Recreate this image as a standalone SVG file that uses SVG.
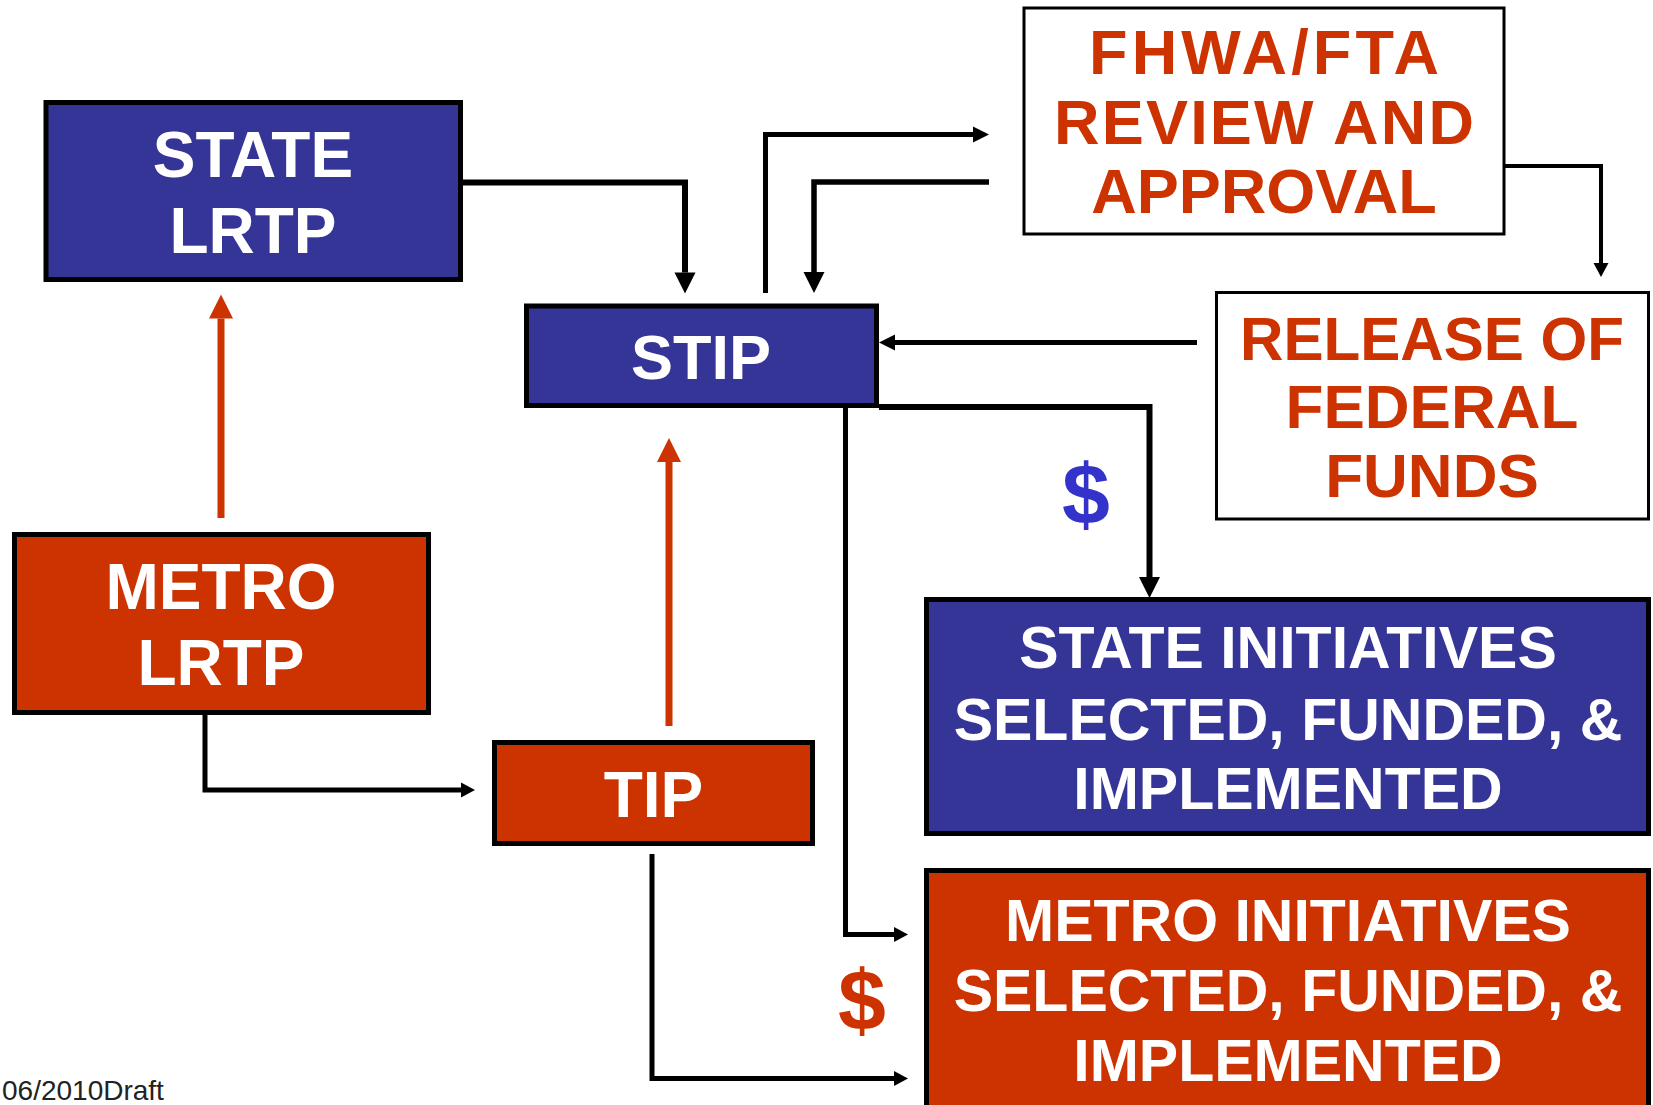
<svg xmlns="http://www.w3.org/2000/svg" width="1653" height="1105" viewBox="0 0 1653 1105">
<style>
.box{stroke:#000;stroke-width:5}
.blue{fill:#353597}
.red{fill:#CC3300}
.wbox{fill:#fff;stroke:#000;stroke-width:3}
.t{font-family:"Liberation Sans",Arial,Helvetica,sans-serif;font-weight:bold;text-anchor:middle}
.tw{fill:#fff}
.tr{fill:#CC3300}
.c{fill:none;stroke:#000;stroke-linejoin:miter;stroke-linecap:butt}
.cr{fill:none;stroke:#CC3300;stroke-width:7}
</style>
<defs>
<marker id="ah21" markerUnits="userSpaceOnUse" markerWidth="21" markerHeight="21" refX="0" refY="10.5" orient="auto" overflow="visible"><path d="M0,0 L21,10.5 L0,21 Z" fill="#000"/></marker>
<marker id="ah16" markerUnits="userSpaceOnUse" markerWidth="16" markerHeight="16" refX="0" refY="8" orient="auto" overflow="visible"><path d="M0,0 L16,8 L0,16 Z" fill="#000"/></marker>
<marker id="ah14" markerUnits="userSpaceOnUse" markerWidth="14" markerHeight="15" refX="0" refY="7.5" orient="auto" overflow="visible"><path d="M0,0 L14,7.5 L0,15 Z" fill="#000"/></marker>
<marker id="ahr" markerUnits="userSpaceOnUse" markerWidth="24" markerHeight="24" refX="0" refY="12" orient="auto" overflow="visible"><path d="M0,0 L24,12 L0,24 Z" fill="#CC3300"/></marker>
</defs>
<rect width="1653" height="1105" fill="#fff"/>

<g id="connectors">
<path class="c" stroke-width="6" d="M462,182.5 H685 V272.5" marker-end="url(#ah21)"/>
<path class="c" stroke-width="5" d="M765.5,293 V134.5 H973" marker-end="url(#ah16)"/>
<path class="c" stroke-width="5.5" d="M989,182 H814 V272" marker-end="url(#ah21)"/>
<path class="c" stroke-width="4" d="M1505,166 H1601 V263" marker-end="url(#ah14)"/>
<path class="c" stroke-width="5" d="M1197,342.5 H895" marker-end="url(#ah16)"/>
<path class="c" stroke-width="6" d="M879,407 H1149.5 V577" marker-end="url(#ah21)"/>
<path class="c" stroke-width="5" d="M845.5,408 V934.5 H894" marker-end="url(#ah14)"/>
<path class="c" stroke-width="5" d="M205,715 V790 H461" marker-end="url(#ah14)"/>
<path class="c" stroke-width="5" d="M652,854 V1078.5 H894" marker-end="url(#ah14)"/>
<path class="cr" d="M221,518 V318.5" marker-end="url(#ahr)"/>
<path class="cr" d="M669,726 V462" marker-end="url(#ahr)"/>
</g>

<g id="state-lrtp">
<rect class="box blue" x="46" y="102.5" width="414.5" height="177"/>
<text class="t tw" x="253" y="177" font-size="64">STATE</text>
<text class="t tw" x="253" y="253" font-size="64">LRTP</text>
</g>

<g id="stip">
<rect class="box blue" x="526.5" y="306" width="350" height="99.5"/>
<text class="t tw" x="701" y="379" font-size="63">STIP</text>
</g>

<g id="fhwa">
<rect class="wbox" x="1024" y="8" width="480" height="226"/>
<text class="t tr" x="1264" y="74" font-size="63" textLength="350" lengthAdjust="spacing">FHWA/FTA</text>
<text class="t tr" x="1264" y="143.5" font-size="63" textLength="420" lengthAdjust="spacing">REVIEW AND</text>
<text class="t tr" x="1264" y="212.5" font-size="63">APPROVAL</text>
</g>

<g id="release">
<rect class="wbox" x="1216.5" y="292.5" width="432" height="226.5"/>
<text class="t tr" x="1432" y="359.5" font-size="62" textLength="384" lengthAdjust="spacingAndGlyphs">RELEASE OF</text>
<text class="t tr" x="1432" y="428" font-size="62">FEDERAL</text>
<text class="t tr" x="1432" y="497" font-size="62">FUNDS</text>
</g>

<g id="metro-lrtp">
<rect class="box red" x="14.5" y="534.5" width="414" height="178"/>
<text class="t tw" x="221" y="608.5" font-size="64">METRO</text>
<text class="t tw" x="221" y="685" font-size="64">LRTP</text>
</g>

<g id="tip">
<rect class="box red" x="494.5" y="742.5" width="318" height="101"/>
<text class="t tw" x="653.5" y="817" font-size="64">TIP</text>
</g>

<g id="state-initiatives">
<rect class="box blue" x="926.5" y="599.5" width="722" height="234"/>
<text class="t tw" x="1288" y="668" font-size="59">STATE INITIATIVES</text>
<text class="t tw" x="1288" y="739.5" font-size="59">SELECTED, FUNDED, &amp;</text>
<text class="t tw" x="1288" y="809" font-size="59">IMPLEMENTED</text>
</g>

<g id="metro-initiatives">
<rect class="box red" x="926.5" y="870.5" width="722" height="250"/>
<text class="t tw" x="1288" y="940.5" font-size="59">METRO INITIATIVES</text>
<text class="t tw" x="1288" y="1011" font-size="59">SELECTED, FUNDED, &amp;</text>
<text class="t tw" x="1288" y="1081" font-size="59">IMPLEMENTED</text>
</g>

<g id="labels">
<text class="t" x="1086" y="523.5" font-size="86" fill="#3333CC">$</text>
<text class="t" x="862" y="1030" font-size="86" fill="#CC3300">$</text>
<text x="2" y="1100" font-size="28" font-family="'Liberation Sans',Arial,sans-serif" fill="#222">06/2010Draft</text>
</g>
</svg>
